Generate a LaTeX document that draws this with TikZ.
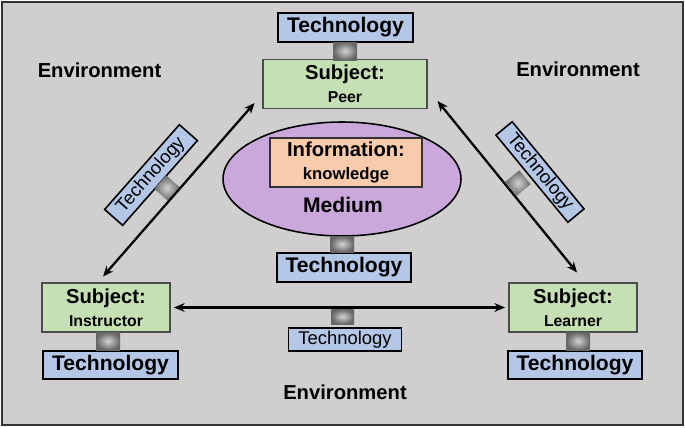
\documentclass[tikz,border=0pt]{standalone}
\usepackage{fontspec}
\setmainfont{Liberation Sans}
\usetikzlibrary{shapes}
\usetikzlibrary{positioning}
\usetikzlibrary{arrows.meta}
\definecolor{bggray}{HTML}{D0CECE}
\definecolor{techblue}{HTML}{B4C7E7}
\definecolor{subjgreen}{HTML}{C5E0B4}
\definecolor{infopeach}{HTML}{F8CBAD}
\definecolor{medpurple}{HTML}{CBA8DC}

\begin{document}
\begin{tikzpicture}[
    x=0.02cm, y=-0.02cm,
    font=\bfseries\fontsize{11.5}{13}\selectfont
]
\tikzset{
    techbox/.style = {draw=black, line width=0.9pt, fill=techblue, inner sep=0pt,
        minimum width=2.7cm, minimum height=0.57cm, font=\bfseries\fontsize{12}{14}\selectfont},
    techthin/.style = {techbox, font=\mdseries\fontsize{10.5}{12}\selectfont,
        minimum width=2.26cm, minimum height=0.46cm},
    subjbox/.style = {draw=black!70, line width=0.6pt, fill=subjgreen, align=center,
        inner sep=0pt, minimum width=2.56cm, minimum height=0.98cm},
    joint/.style = {inner sep=0pt, minimum width=0.48cm, minimum height=0.34cm,
        shading=radial, inner color=gray!35, outer color=gray!80!black},
    arr/.style = {{Stealth[length=6pt,width=5pt]}-{Stealth[length=6pt,width=5pt]}, line width=1.3pt}
}
\useasboundingbox (0,0) rectangle (685,427);
\draw[fill=bggray, line width=0.8pt, draw=black!80] (2,2) rectangle (683,425);

% subjects
\node[subjbox, minimum width=3.28cm] at (345,84) (peer)
    {Subject:\\[0pt]{\fontsize{9}{10}\selectfont Peer}};
\node[subjbox] at (106,307.5) (instr)
    {Subject:\\[0pt]{\fontsize{9}{10}\selectfont Instructor}};
\node[subjbox] at (573,307.5) (learner)
    {Subject:\\[0pt]{\fontsize{9}{10}\selectfont Learner}};

% medium
\node[ellipse, draw=black, line width=0.9pt, fill=medpurple, minimum width=4.76cm,
    minimum height=2.28cm, inner sep=0pt] at (342,179) (medium) {};
\node[draw=black!80, line width=0.6pt, fill=infopeach, align=center, inner sep=0pt,
    minimum width=3.04cm, minimum height=0.98cm] at (346,162.5) (info)
    {Information:\\[0pt]{\fontsize{9.5}{11}\selectfont knowledge}};
\node at (343,205) (medtext) {\fontsize{12}{14}\selectfont Medium};

% technology boxes
\node[techbox] at (345.5,27.5) (techP) {Technology};
\node[techbox, minimum width=2.68cm] at (344,267.5) (techM) {Technology};
\node[techbox] at (110.5,365) (techI) {Technology};
\node[techbox, minimum width=2.68cm] at (575,365) (techL) {Technology};
\node[techthin] at (345,339.5) (techB) {Technology};
\node[techthin, rotate=48.6, minimum height=0.48cm] at (151,175) (techIP) {Technology};
\node[techthin, rotate=-50.5, minimum height=0.42cm] at (540,172) (techPL) {Technology};

% joints
\node[joint, minimum height=0.36cm] at (345,51) (jP) {};
\node[joint, minimum height=0.32cm] at (342,244) (jM) {};
\node[joint, minimum height=0.36cm] at (108,341) (jI) {};
\node[joint, minimum height=0.36cm] at (578,341) (jL) {};
\node[joint, minimum width=0.46cm, minimum height=0.3cm] at (342.5,316.5) (jB) {};
\node[joint, rotate=48.6, minimum width=0.36cm, minimum height=0.36cm] at (167,188) (jIP) {};
\node[joint, rotate=-50.5, minimum width=0.36cm, minimum height=0.36cm] at (518,183) (jPL) {};

% relations
\draw[arr] ([shift={(-3,-6)}]instr.north) -- ([shift={(-8,-6)}]peer.south west);
\draw[arr] ([shift={(10,-8)}]peer.south east) -- ([shift={(4,-10)}]learner.north);
\draw[arr] ([xshift=2pt]instr.east) -- ([xshift=-2pt]learner.west);

% environment
\node at (99.5,70) (envL) {Environment};
\node at (578,69) (envR) {Environment};
\node at (345,392) (envB) {Environment};
\end{tikzpicture}
\end{document}
